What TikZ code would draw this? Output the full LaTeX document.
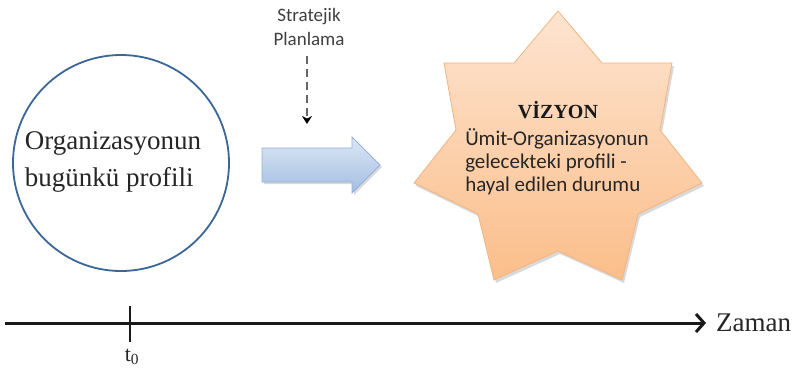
\documentclass[tikz,border=0pt]{standalone}
\usepackage{fontspec}
\setmainfont{Liberation Serif}
\newfontfamily\calfont{Carlito}
\usetikzlibrary{arrows.meta}
\definecolor{ringblue}{HTML}{3B6797}
\definecolor{peachtop}{HTML}{FDE4D0}
\definecolor{peachbot}{HTML}{FBBE8A}
\definecolor{peachedge}{HTML}{F2B482}
\definecolor{bluetop}{HTML}{DCE7F5}
\definecolor{bluebot}{HTML}{A3BEE2}
\definecolor{blueedge}{HTML}{93B1D8}
\begin{document}
\begin{tikzpicture}[x=1pt,y=-1pt,
  circtext/.style={font=\fontsize{27}{37}\selectfont, text=black!85, align=left, inner sep=0pt},
  smalllabel/.style={font=\calfont\fontsize{19}{24}\selectfont, text=black!75, align=center, inner sep=0pt},
  startext/.style={font=\calfont\fontsize{21}{23}\selectfont, text=black!85, align=left, inner sep=0pt},
  startitle/.style={font=\bfseries\fontsize{20}{24}\selectfont, text=black!90, inner sep=0pt},
  axislabel/.style={font=\fontsize{27}{30}\selectfont, text=black!85, inner sep=0pt},
  starfill/.style={draw=peachedge, line width=0.8pt, top color=peachtop, bottom color=peachbot, line join=miter},
  blockarrow/.style={draw=blueedge, line width=0.8pt, top color=bluetop, bottom color=bluebot},
  softshadow/.style={fill=black, opacity=0.15, draw=none},
]
\useasboundingbox (0,0) rectangle (796,378);

% today's profile
\node[circle, draw=ringblue, line width=1.8pt, minimum size=216pt, inner sep=0pt] (now) at (121,163) {};
\node[circtext] (nowtext) at (113,162) {Organizasyonun\\bugünkü profili};

% planning label with dashed arrow
\node[smalllabel] (plan) at (309,27) {Stratejik\\Planlama};
\coordinate (planend) at (307,124);
\draw[line width=2.4pt, black!60, dash pattern=on 8pt off 5pt, -{Stealth[length=8pt,width=10pt,black]}]
  (plan.south -| planend) ++(0,10) -- (planend);

% block arrow towards the vision
\coordinate (ba) at (262,165);
\fill[softshadow] ([shift={(2,2)}]ba) ++(0,-17) -- ++(90,0) -- ++(0,-11) -- ++(28,28) -- ++(-28,28) -- ++(0,-11) -- ++(-90,0) -- cycle;
\path[blockarrow] (ba) ++(0,-17) -- ++(90,0) -- ++(0,-11) -- ++(28,28) -- ++(-28,28) -- ++(0,-11) -- ++(-90,0) -- cycle;

% vision star
\fill[softshadow, shift={(2,3)}] (558,11) -- (602,63) -- (672,63) -- (660,130) -- (702,183) -- (638,214)
  -- (622,280) -- (558,251) -- (494,280) -- (478,214) -- (414,183) -- (456,130)
  -- (444,63) -- (514,63) -- cycle;
\path[starfill] (558,11) -- (602,63) -- (672,63) -- (660,130) -- (702,183) -- (638,214)
  -- (622,280) -- (558,251) -- (494,280) -- (478,214) -- (414,183) -- (456,130)
  -- (444,63) -- (514,63) -- cycle;
\coordinate (vision) at (558,160);
\node[startitle] (vtitle) at (558,110) {VİZYON};
\node[startext] (vtext) at (557,162) {Ümit-Organizasyonun\\gelecekteki profili -\\hayal edilen durumu};

% time axis
\coordinate (tstart) at (5,323);
\coordinate (tend) at (706,323);
\coordinate (tick) at (130,323);
\draw[line width=3pt, black!90, -{Straight Barb[length=8pt,width=18pt,line width=3pt]}] (tstart) -- (tend);
\draw[line width=1.8pt, black!90] (tick) ++(0,-17) -- ++(0,36);
\node[axislabel, anchor=west] (zaman) at ([xshift=10pt]tend) {Zaman};
\node[axislabel, font=\fontsize{22}{26}\selectfont] (t0) at (132,357) {t\textsubscript{0}};
\end{tikzpicture}
\end{document}
